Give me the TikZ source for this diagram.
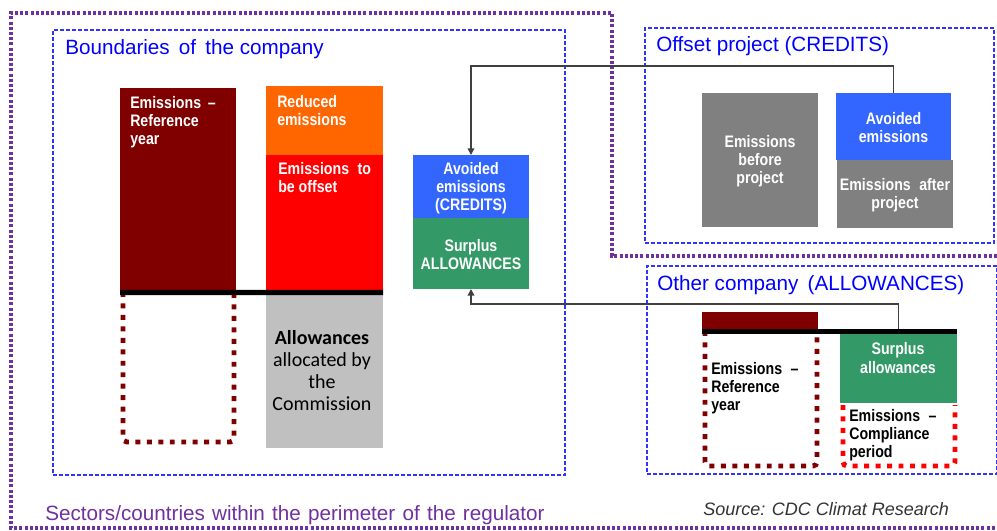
\documentclass[tikz,border=0pt]{standalone}
\usepackage{fontspec}
\setmainfont{Liberation Sans}
\newfontfamily\narrowfont[FakeStretch=0.85]{Liberation Sans}
\newfontfamily\calib{Carlito}
\usetikzlibrary{fit,arrows.meta}
\definecolor{dred}{HTML}{800000}
\definecolor{orng}{HTML}{FF6600}
\definecolor{rred}{HTML}{FF0000}
\definecolor{cblue}{HTML}{3366FF}
\definecolor{cgreen}{HTML}{339966}
\definecolor{dgray}{HTML}{808080}
\definecolor{lgray}{HTML}{C0C0C0}
\definecolor{purp}{HTML}{7030A0}
\definecolor{bdash}{HTML}{3333FF}
\definecolor{tblue}{HTML}{0000FF}
\tikzset{
  x=0.75pt, y=-0.75pt,
  bar/.style={inner sep=0pt, outer sep=0pt, draw=none},
  wtxt/.style={font=\narrowfont\bfseries\fontsize{12.5}{13.6}\selectfont, text=white, inner sep=0pt},
  ktxt/.style={font=\narrowfont\bfseries\fontsize{12.5}{13.6}\selectfont, text=black, inner sep=0pt, align=left},
  title/.style={font=\fontsize{15.5}{18}\selectfont, text=tblue, inner sep=0pt, anchor=west},
  bbox/.style={draw=bdash, line width=0.8pt, dash pattern=on 3pt off 1.5pt},
  reddots/.style={line width=3.7pt, dash pattern=on 3.7pt off 4.9pt, rounded corners=3pt},
  blackbar/.style={line width=3.8pt, draw=black},
  arr/.style={draw=black!75, line width=1.1pt, -{Triangle[length=5pt,width=5pt]}},
}
\newcommand{\wsp}{\hspace{1.1pt} }
\begin{document}
\begin{tikzpicture}
\useasboundingbox (0,0) rectangle (997,531);
% outer purple regulator perimeter
\draw[purp, line width=2.4pt, dash pattern=on 2.3pt off 1.6pt]
  (997,256) -- (612,256) -- (612,13) -- (11,13) -- (11,528) -- (997,528);
% dashed boundary boxes
\node[bbox, fit={(53,30) (565,475)}, inner sep=0pt] (compbox) {};
\node[bbox, fit={(645,28) (994,243)}, inner sep=0pt] (offbox) {};
\node[bbox, fit={(647,266) (997,474)}, inner sep=0pt] (othbox) {};
\node[title] (t1) at (65,49) {Boundaries \,of \,the company};
\node[title] (t2) at (656,46) {Offset project (CREDITS)};
\node[title] (t3) at (657,285) {Other company \,(ALLOWANCES)};
\node[title, text=purp] (t4) at (45,515) {Sectors/countries\wsp within\wsp the\wsp perimeter\wsp of\wsp the\wsp regulator};
\node[font=\itshape\fontsize{13.5}{16}\selectfont, text=black!80, inner sep=0pt, anchor=west] (src) at (703,509) {Source: CDC Climat Research};

% company bars
\node[bar, fill=dred, fit={(120,88) (236,290)}] (refbar) {};
\node[wtxt, anchor=north west, align=left] (reftxt) at (130,96) {Emissions \,–\\Reference\\year};
\node[bar, fill=orng, fit={(266,86) (383,155)}] (redbar) {};
\node[wtxt, anchor=north west, align=left] (redtxt) at (277,95) {Reduced\\emissions};
\node[bar, fill=rred, fit={(266,155) (383,290)}] (offsbar) {};
\node[wtxt, anchor=north west, align=left] (offstxt) at (278,162) {Emissions \;to\\be offset};
\draw[dred, reddots] (123,292) -- (123,442) -- (234,442) -- (234,292);
\node[bar, fill=lgray, fit={(266,294) (383,448)}] (allowbar) {};
\node[font=\calib\fontsize{15}{16.5}\selectfont, align=center, inner sep=0pt] (allowtxt) at (322,371) {\textbf{Allowances}\\allocated by\\the\\Commission};

\node[bar, fill=cblue, fit={(413,155) (529,218)}] (credit) {};
\node[wtxt, align=center] (credittxt) at ([yshift=-1pt]credit.center) {Avoided\\emissions\\(CREDITS)};
\node[bar, fill=cgreen, fit={(413,218) (529,289)}] (surplus) {};
\node[wtxt, align=center] (surplustxt) at ([yshift=-1pt]surplus.center) {Surplus\\ALLOWANCES};

% offset project
\node[bar, fill=dgray, fit={(702,93) (818,227)}] (before) {};
\node[wtxt, align=center] (beforetxt) at ([yshift=-1pt]before.center) {Emissions\\before\\project};
\node[bar, fill=cblue, fit={(836,93) (951,160)}] (offav) {};
\node[wtxt, align=center] (offavtxt) at ([yshift=-1pt]offav.center) {Avoided\\emissions};
\node[bar, fill=dgray, fit={(837,160) (953,228)}] (after) {};
\node[wtxt, align=center] (aftertxt) at ([yshift=-1pt]after.center) {Emissions \;after\\project};

% other company
\node[bar, fill=dred, fit={(702,312) (818,329)}] (oref) {};
\node[bar, fill=cgreen, fit={(840,333) (957,403)}] (osur) {};
\node[wtxt, align=center] (osurtxt) at (898,358) {Surplus\\allowances};
\draw[dred, reddots] (705,331) -- (705,466) -- (817,466) -- (817,331);
\node[ktxt, anchor=north west] (oreftxt) at (711,362) {Emissions \;–\\Reference\\year};
\draw[rred, reddots] (843,405) -- (843,466) -- (955,466) -- (955,405);
\node[ktxt, anchor=north west] (comptxt) at (849,409) {Emissions \;–\\Compliance\\period};

% connectors
\coordinate (k1) at (895,66);
\coordinate (k2) at (898,304);
\draw[arr] (offav.north) -- (offav.north |- k1) -| (credit.north);
\draw[arr] (osur.north) -- (osur.north |- k2) -| (surplus.south);

% black baselines
\draw[blackbar] (refbar.south west) ++(0,2.5) -- ([yshift=-1.9pt]offsbar.south east);
\draw[blackbar] ([yshift=-1.9pt]oref.south west) -- ([yshift=-1.9pt]oref.south west -| osur.east);
\end{tikzpicture}
\end{document}
